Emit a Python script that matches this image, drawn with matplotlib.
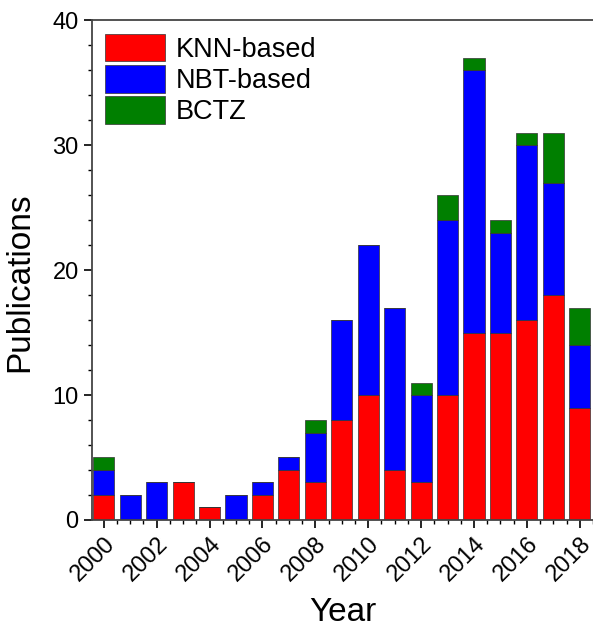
import numpy as np
import matplotlib.pyplot as plt
from matplotlib.ticker import MultipleLocator

plt.rcParams['font.family'] = ['Liberation Sans', 'DejaVu Sans']

years = np.arange(2000, 2019)
knn = [2, 0, 0, 3, 1, 0, 2, 4, 3, 8, 10, 4, 3, 10, 15, 15, 16, 18, 9]
nbt = [2, 2, 3, 0, 0, 2, 1, 1, 4, 8, 12, 13, 7, 14, 21, 8, 14, 9, 5]
bctz = [1, 0, 0, 0, 0, 0, 0, 0, 1, 0, 0, 0, 1, 2, 1, 1, 1, 4, 3]

knn = np.array(knn)
nbt = np.array(nbt)
bctz = np.array(bctz)

fig = plt.figure(figsize=(5.93, 6.28), dpi=100)
ax = fig.add_axes([0.155, 0.172, 0.845, 0.796])

w = 0.8
ax.bar(years, knn, w, color='#ff0000', edgecolor='#333333', linewidth=0.5, label='KNN-based')
ax.bar(years, nbt, w, bottom=knn, color='#0000ff', edgecolor='#333333', linewidth=0.5, label='NBT-based')
ax.bar(years, bctz, w, bottom=knn + nbt, color='#007f00', edgecolor='#333333', linewidth=0.5, label='BCTZ')

ax.set_xlim(1999.55, 2018.5)
ax.set_ylim(0, 40)
ax.xaxis.set_major_locator(MultipleLocator(2))
ax.xaxis.set_minor_locator(MultipleLocator(0.5))
ax.yaxis.set_major_locator(MultipleLocator(10))
ax.yaxis.set_minor_locator(MultipleLocator(2))
ax.tick_params(which='major', length=6, width=1.2, labelsize=17)
ax.tick_params(which='minor', length=3, width=1)
ax.tick_params(top=False, right=False)
plt.setp(ax.get_xticklabels(), rotation=45, ha='right', rotation_mode='anchor')

for s in ['left', 'bottom', 'top']:
    ax.spines[s].set_linewidth(1.3)
    ax.spines[s].set_color('#444444')
ax.spines['right'].set_visible(False)

ax.set_xlabel('Year', fontsize=24, labelpad=8)
ax.set_ylabel('Publications', fontsize=24)
ax.yaxis.set_label_coords(-0.113, 0.475)

ax.legend(loc='upper left', frameon=False, fontsize=19.5, handlelength=2.2,
          handleheight=1.2, labelspacing=0.08, handletextpad=0.4,
          borderaxespad=0.2, borderpad=0.3)

fig.savefig('out.png', dpi=100)
